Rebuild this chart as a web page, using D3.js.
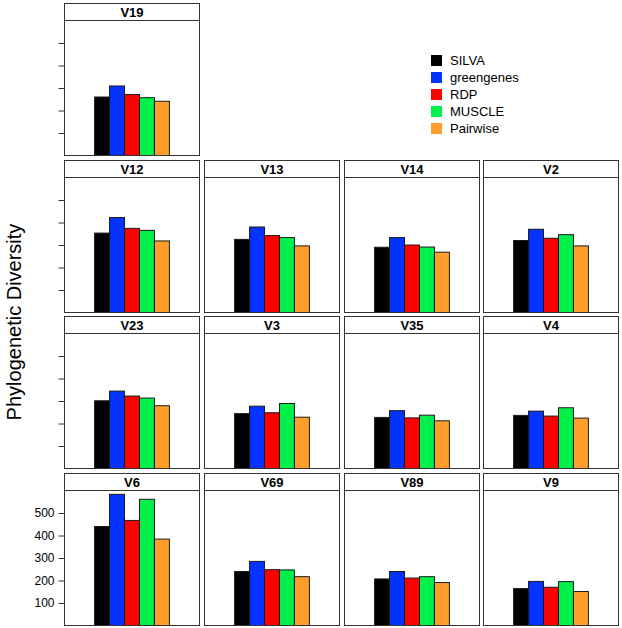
<!DOCTYPE html>
<html>
<head>
<meta charset="utf-8">
<script src="https://cdn.jsdelivr.net/npm/d3@7"></script>
<style>
  html, body { margin: 0; padding: 0; background: #fff; }
  svg { display: block; }
  text { font-family: "Liberation Sans", Arial, Helvetica, sans-serif; }
</style>
</head>
<body>
<svg id="chart" width="622" height="628"></svg>
<script>
const regions = ["V19","V12","V13","V14","V2","V23","V3","V35","V4","V6","V69","V89","V9"];
const seriesNames = ["SILVA","greengenes","RDP","MUSCLE","Pairwise"];
const silva      = [260,353,325,290,320,301,244,227,236,440,240,207,164];
const greengenes = [309,422,380,333,370,344,277,257,255,583,285,240,196];
const rdp        = [271,374,342,300,330,322,248,225,233,467,248,211,170];
const muscle     = [257,365,333,291,346,313,289,237,270,561,247,217,195];
const pairwise   = [241,318,296,268,296,279,228,212,224,384,217,191,151];
const seriesValues = [silva, greengenes, rdp, muscle, pairwise];
const yTicks = [100,200,300,400,500];
const colors = ["#000000","#0433ff","#ff0000","#00f24a","#ff9e2c"];

const svg = d3.select("#chart");
const left0 = 64, colPitch = 139.75, pw = 135;
const top0 = 3, rowPitch = 156.5, stripH = 17, plotH = 135;

const y = d3.scaleLinear().domain([0, 600]).range([plotH, 0]);
const xOuter = d3.scaleBand().domain(["all"]).range([0, pw]).padding(0.287);
const xInner = d3.scaleBand().domain(seriesNames).range([0, xOuter.bandwidth()]).padding(0);
const color = d3.scaleOrdinal().domain(seriesNames).range(colors);

function pos(i) {
  if (i === 0) return {row: 0, col: 0};
  return {row: 1 + Math.floor((i - 1) / 4), col: (i - 1) % 4};
}

const rowsUsed = new Set();
regions.forEach((reg, i) => {
  const p = pos(i);
  const px = Math.round(left0 + p.col * colPitch);
  const py = Math.round(top0 + p.row * rowPitch);
  const g = svg.append("g").attr("transform", `translate(${px},${py})`);

  // strip
  g.append("rect").attr("x", 0.5).attr("y", 0.5).attr("width", pw).attr("height", stripH)
    .attr("fill", "#fff").attr("stroke", "#333").attr("stroke-width", 1);
  g.append("text").attr("x", pw / 2 + 0.5).attr("y", stripH / 2 + 5)
    .attr("text-anchor", "middle").attr("font-size", 13).attr("font-weight", "bold")
    .text(reg);

  const pg = g.append("g").attr("transform", `translate(0,${stripH})`);
  const rowData = seriesNames.map((s, k) => ({series: s, value: seriesValues[k][i]}));
  pg.selectAll("rect.bar").data(rowData).enter().append("rect")
    .attr("class", "bar")
    .attr("x", d => xOuter("all") + xInner(d.series) + 0.5)
    .attr("width", xInner.bandwidth())
    .attr("y", d => y(d.value) + 0.5)
    .attr("height", d => plotH - y(d.value))
    .attr("fill", d => color(d.series))
    .attr("stroke", "#1a1a1a").attr("stroke-width", 1);

  pg.append("rect").attr("x", 0.5).attr("y", 0.5).attr("width", pw).attr("height", plotH)
    .attr("fill", "none").attr("stroke", "#333").attr("stroke-width", 1);

  if (p.col === 0 && !rowsUsed.has(p.row)) {
    rowsUsed.add(p.row);
    const showLabels = p.row === 3;
    const axis = d3.axisLeft(y).tickValues(yTicks).tickSize(6).tickPadding(4)
      .tickFormat(showLabels ? d3.format("d") : () => "");
    const ag = pg.append("g").attr("transform", "translate(0.5,0.5)").call(axis);
    ag.select(".domain").remove();
    ag.selectAll(".tick line").attr("stroke", "#333");
    ag.selectAll(".tick text").attr("font-size", 12).attr("fill", "#000")
      .style("font-family", '"Liberation Sans", Arial, sans-serif');
  }
});

// y-axis title
svg.append("text")
  .attr("transform", "translate(21,322) rotate(-90)")
  .attr("text-anchor", "middle").attr("font-size", 20)
  .text("Phylogenetic Diversity");

// legend
const lg = svg.append("g").attr("transform", "translate(431,60.5)");
const items = lg.selectAll("g.item").data(seriesNames).enter().append("g")
  .attr("class", "item").attr("transform", (d, k) => `translate(0,${k * 17})`);
items.append("rect").attr("x", 0).attr("y", -5.5).attr("width", 11).attr("height", 11)
  .attr("fill", d => color(d));
items.append("text").attr("x", 19).attr("y", 4.5).attr("font-size", 13).text(d => d);
</script>
</body>
</html>
